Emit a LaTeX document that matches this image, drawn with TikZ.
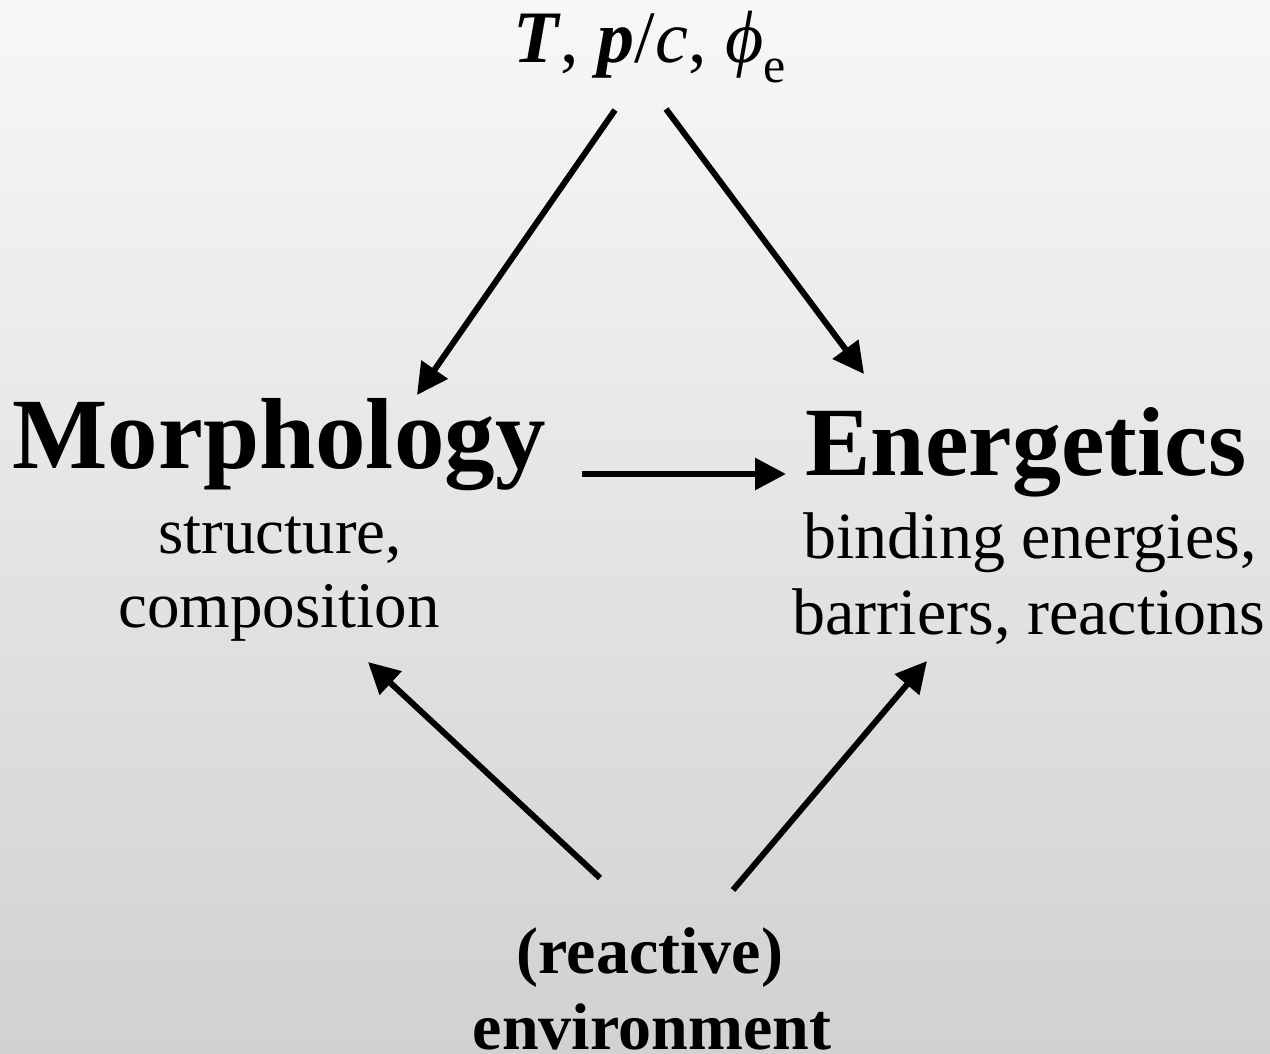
\documentclass[tikz,border=0pt]{standalone}
\usepackage{fontspec}
\setmainfont{Liberation Serif}
\usetikzlibrary{arrows.meta}
\tikzset{
  conn/.style={line width=6pt,-{Triangle[length=31pt,width=31pt]}},
  txt/.style={inner sep=0pt,anchor=base,text=black},
}
\begin{document}
\begin{tikzpicture}[x=1pt,y=-1pt]
\useasboundingbox (0,0) rectangle (1270,1053);
\shade[top color=white!97!black,bottom color=white!82!black] (0,0) rectangle (1270,1053);
% texts
\node[txt,anchor=base west] (params) at (513,62) {\fontsize{74}{80}\selectfont\textbf{\textit{T}}, \textbf{\textit{p}}/\textit{c}, \textit{ϕ}\raisebox{-20pt}{\fontsize{50}{50}\selectfont e}};
\node[txt] (morph) at (279,468) {\fontsize{101}{120}\selectfont\textbf{Morphology}};
\node[txt] (morph1) at (280,553) {\fontsize{65}{75}\selectfont structure,};
\node[txt] (morph2) at (279,627) {\fontsize{65}{75}\selectfont composition};
\node[txt] (ener) at (1026,475) {\fontsize{98}{115}\selectfont\textbf{Energetics}};
\node[txt] (ener1) at (1030,558) {\fontsize{66}{76}\selectfont binding energies,};
\node[txt] (ener2) at (1029,634) {\fontsize{66}{76}\selectfont barriers, reactions};
\node[txt] (env1) at (650,973) {\fontsize{66}{76}\selectfont\textbf{(reactive)}};
\node[txt] (env2) at (652,1049) {\fontsize{66}{76}\selectfont\textbf{environment}};
% connector ends
\coordinate (tlS) at (615,110);
\coordinate (tlE) at (417,395);
\coordinate (trS) at (666,109);
\coordinate (trE) at (864,374);
\coordinate (mS) at (582,474);
\coordinate (mE) at (786,474);
\coordinate (blS) at (600,878);
\coordinate (blE) at (368,662);
\coordinate (brS) at (733,890);
\coordinate (brE) at (927,661);
\draw[conn] (tlS) -- (tlE);
\draw[conn] (trS) -- (trE);
\draw[conn] (mS) -- (mE);
\draw[conn] (blS) -- (blE);
\draw[conn] (brS) -- (brE);
\end{tikzpicture}
\end{document}
